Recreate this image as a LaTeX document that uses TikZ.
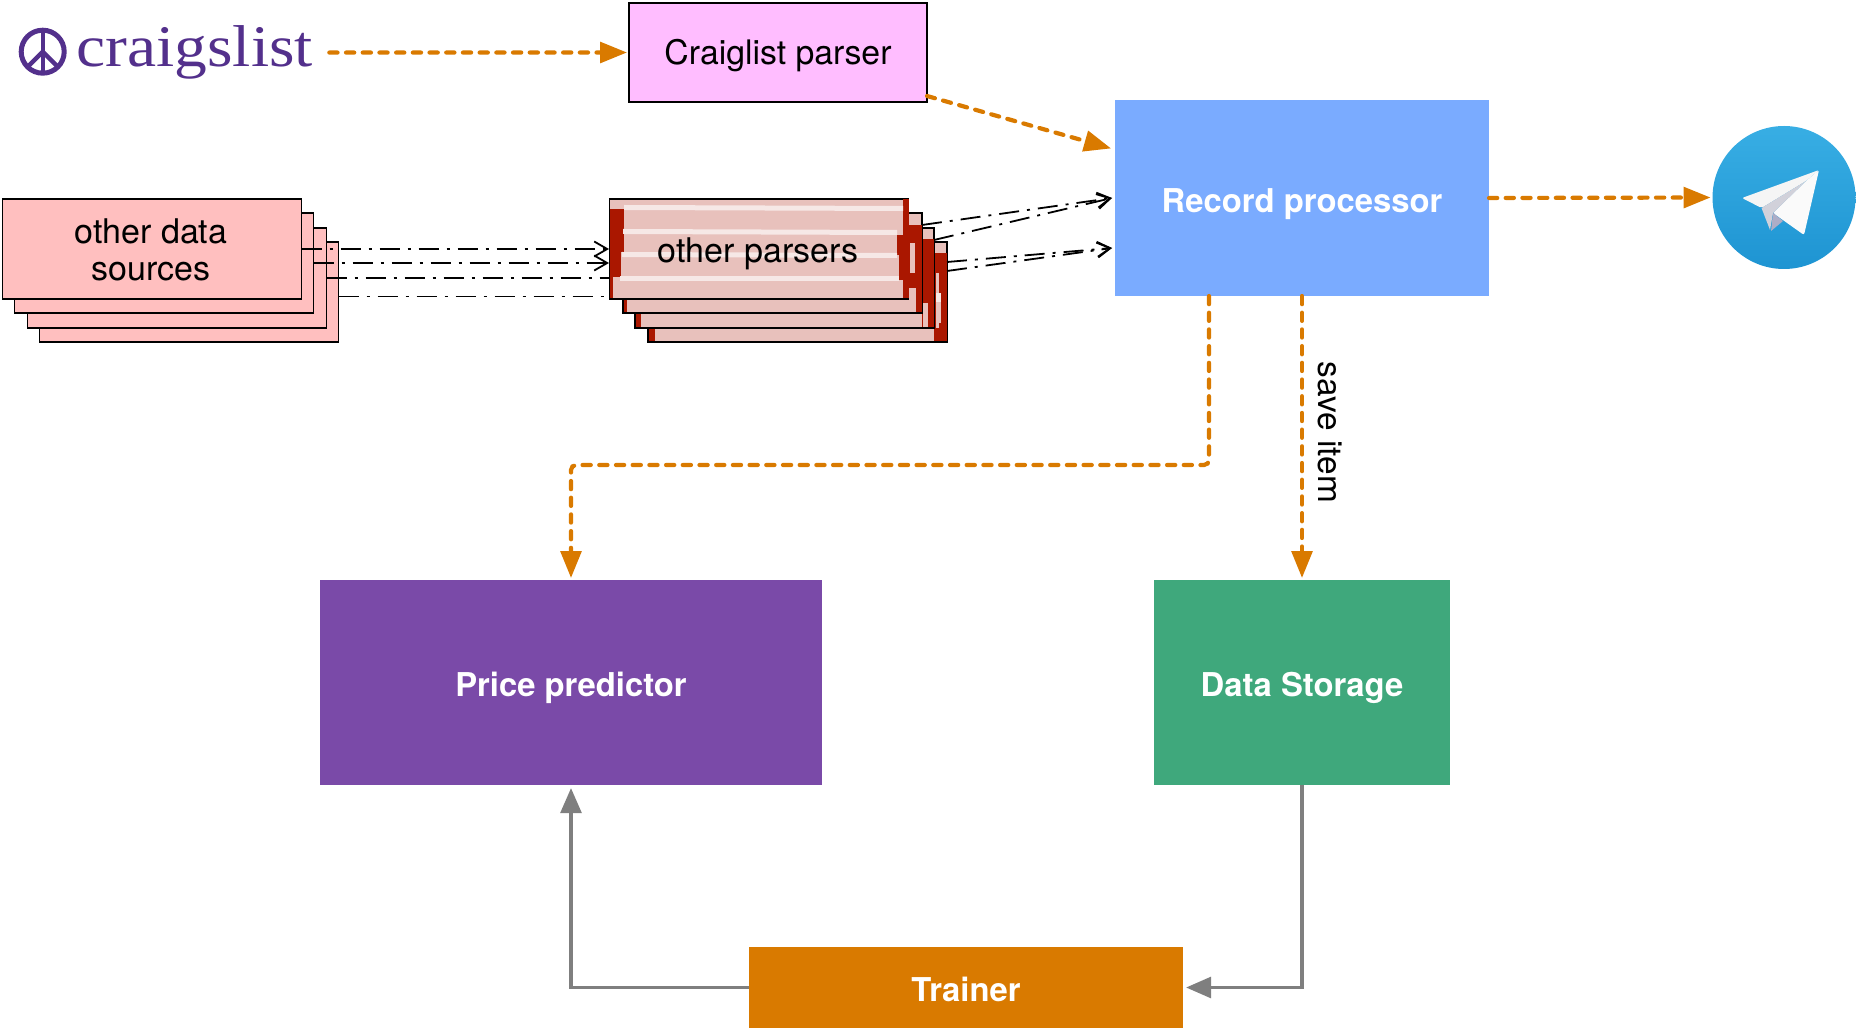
\documentclass[tikz,border=0pt]{standalone}
\usepackage{fontspec}
\setmainfont{TeX Gyre Heros}
\newfontfamily\logofont{Liberation Serif}
\usetikzlibrary{positioning, calc, arrows.meta}

\definecolor{flowcol}{HTML}{D97A00}
\definecolor{trainline}{HTML}{7F7F7F}
\definecolor{rustcol}{HTML}{AA1700}
\definecolor{palecol}{HTML}{E8C1BC}
\definecolor{streakcol}{HTML}{F6E8E6}
\definecolor{logocol}{HTML}{53308C}

\tikzset{
    block/.style={rectangle, inner sep=0, outer sep=0, text=white, text height=16.4pt, text depth=2pt,
        font=\bfseries\fontsize{16.4}{20}\selectfont},
    stacktext/.style={rectangle, inner sep=0, outer sep=0, text=black, font=\fontsize{17}{19}\selectfont},
    stackbox/.style={rectangle, draw=black, line width=0.8pt, inner sep=0, outer sep=0,
        minimum width=149.5pt, minimum height=50pt},
    flow/.style={draw=flowcol, line width=2.1pt, line cap=round, dash pattern=on 4.1pt off 4.25pt, rounded corners=2.5pt,
        -{Triangle[length=13.5pt,width=10.3pt,fill=flowcol]}, shorten >=1pt},
    feedback/.style={draw=trainline, line width=1.9pt,
        -{Triangle[length=12.5pt,width=10.3pt,fill=trainline]}, shorten >=1.5pt},
    other/.style={draw=black, line width=0.9pt, dash pattern=on 10pt off 4pt on 1.5pt off 4pt,
        -{Straight Barb[length=6.5pt,width=7.5pt]}},
    rust/.style={fill=rustcol},
    pale/.style={fill=palecol},
    streak/.style={fill=streakcol}
}

\begin{document}
\begin{tikzpicture}[x=0.5pt,y=-0.5pt]
        \useasboundingbox (0,0) rectangle (1856,1031);

        % 1. Logo on the top left
        \node[circle, draw=logocol, line width=2.5pt, inner sep=0, outer sep=0, minimum size=21.5pt] (peace) at (42.7,51.7) {};
        \draw[logocol, line width=2.2pt] (peace.north) -- (peace.south);
        \draw[logocol, line width=2.2pt] (peace.south west) -- (peace.center) -- (peace.south east);
        \node[anchor=base west, inner sep=0, text=logocol, xscale=1.11, font=\logofont\fontsize{29.5}{33}\selectfont] (craigslist) at (76,66.7) {craigslist};

        % 2. Main blocks
        \node[block, draw=black, line width=0.8pt, fill={rgb,255:red,255;green,189;blue,255}, text=black, text height=14pt, font=\mdseries\fontsize{16.9}{20}\selectfont, minimum width=149pt, minimum height=49.5pt] (parser) at (778,52.5) {Craiglist parser};
        \node[block, fill={rgb,255:red,122;green,171;blue,255}, minimum width=187pt, minimum height=98pt] (rec) at (1302,198) {Record processor};
        \node[block, fill={rgb,255:red,122;green,74;blue,168}, minimum width=251pt, minimum height=102.5pt] (pp) at (571,682.5) {Price predictor};
        \node[block, fill={rgb,255:red,63;green,168;blue,124}, minimum width=148pt, minimum height=102.5pt] (data) at (1302,682.5) {Data Storage};
        \node[block, fill=flowcol, minimum width=217pt, minimum height=40.5pt] (trainer) at (966,987.5) {Trainer};

        % 3. Stack of data sources
        \foreach \i/\x/\y in {4/189/292, 3/177/278, 2/164/263, 1/152/249}
            \node[stackbox, fill={rgb,255:red,255;green,191;blue,191}] (src\i) at (\x,\y) {};
        \node[stacktext, align=center] (srctext) at (151,250) {other data\\[-0.5pt]sources};

        % 4. Lines into the parsers, the lower ones end under the stack
        \draw[other] (src1.east) -- (609,249);
        \draw[other] (src2.east) -- (609,263);
        \draw[other] (src3.east) -- (635,278);
        \draw[other] ($(src4.east)+(0,4.5)$) -- (648,296.5);

        % 5. Stack of parsers, back to front, with its worn patches
        \node[stackbox, pale] (parser4) at (797.5,292) {};
        \fill[rust] (648.5,328) rectangle (655,341.5);
        \fill[rust] (934,253) rectangle (946.5,341.5);
        \fill[pale] (936,273) rectangle (939,328);
        \fill[streak] (936,293) rectangle (941,302);
        \fill[pale] (936,302) rectangle (941,323);

        \node[stackbox, pale] (parser3) at (784.5,278) {};
        \fill[rust] (635.5,313) rectangle (641,327.5);
        \fill[rust] (922,239) rectangle (933.5,327.5);
        \fill[pale] (923,303) rectangle (928,327.5);

        \node[stackbox, pale] (parser2) at (772.5,263) {};
        \fill[rust] (623.5,299) rectangle (627,312.5);
        \fill[rust] (909,225) rectangle (921.5,312.5);
        \fill[pale] (910,243) rectangle (915,273);
        \fill[pale] (909,288) rectangle (916,312.5);

        \node[stackbox, pale] (parser1) at (759,249) {};
        \fill[rust] (610,209) rectangle (624,252);
        \fill[rust] (610,252) rectangle (621,277);
        \fill[rust] (610,277) rectangle (613,298.5);
        \fill[rust] (903,199.5) rectangle (908.5,298.5);
        \fill[rust] (897,235) rectangle (908.5,255);
        \fill[rust] (899,255) rectangle (908.5,280);
        \fill[streak] (624,205) -- (903,206) -- (903,211) -- (624,210) -- cycle;
        \fill[streak] (623,229) -- (897,230) -- (897,235) -- (623,234) -- cycle;
        \fill[streak] (622,252) -- (897,253) -- (897,258) -- (622,257) -- cycle;
        \fill[streak] (620,276) -- (899,276) -- (899,281) -- (620,281) -- cycle;
        \node[stacktext] (parsertext) at (758,254) {other parsers};

        % 6. Lines out of the parsers
        \coordinate (recin) at ($(rec.west)+(-3,50)$);
        \draw[other] ($(parser2.north east)+(0,12)$) -- ($(rec.west)+(-3,0)$);
        \draw[other] ($(parser3.north east)+(0,12)$) -- ($(rec.west)+(-3,0)$);
        \draw[other] ($(parser4.north east)+(0,20)$) -- (recin);
        \draw[other] ($(parser4.north east)+(0,29)$) -- (recin);

        % 7. Telegram badge
        \node[circle, inner sep=0, outer sep=0, minimum size=71.5pt, top color={rgb,255:red,56;green,174;blue,228}, bottom color={rgb,255:red,30;green,148;blue,210}] (tg) at (1784,197.5) {};
        \fill[black!4!white, rounded corners=1pt] (1742,198) -- (1819,170) -- (1806,181) -- (1761.5,208) -- cycle;
        \fill[black!2!white, rounded corners=1pt] (1773,213) -- (1806,181) -- (1819,170) -- (1804,235) -- cycle;
        \fill[blue!20!black!18!white] (1761.5,208) -- (1806,181) -- (1773,213) -- (1770,230) -- cycle;
        \fill[blue!30!black!32!white] (1773,213) -- (1783,221) -- (1771,231) -- cycle;

        % 8. Orange data flow
        \draw[flow, shorten <=8pt] (craigslist.east) -- (parser.west);
        \draw[flow] ($(parser.south east)+(0,-6)$) -- ($(rec.north west)+(-2,49)$);
        \draw[flow] (rec.east) -- (tg.west);
        \draw[flow] ($(rec.south)+(-93,0)$) -- ++(0,169) -| (pp.north);
        \draw[flow] (rec.south) -- (data.north) node[pos=0.48, xshift=14pt, rotate=-90, text=black, font=\fontsize{16.7}{18}\selectfont] (saveitem) {save item};

        % 9. Training loop
        \draw[feedback] (data.south) |- (trainer.east);
        \draw[feedback] (trainer.west) -| (pp.south);

    \end{tikzpicture}
\end{document}
